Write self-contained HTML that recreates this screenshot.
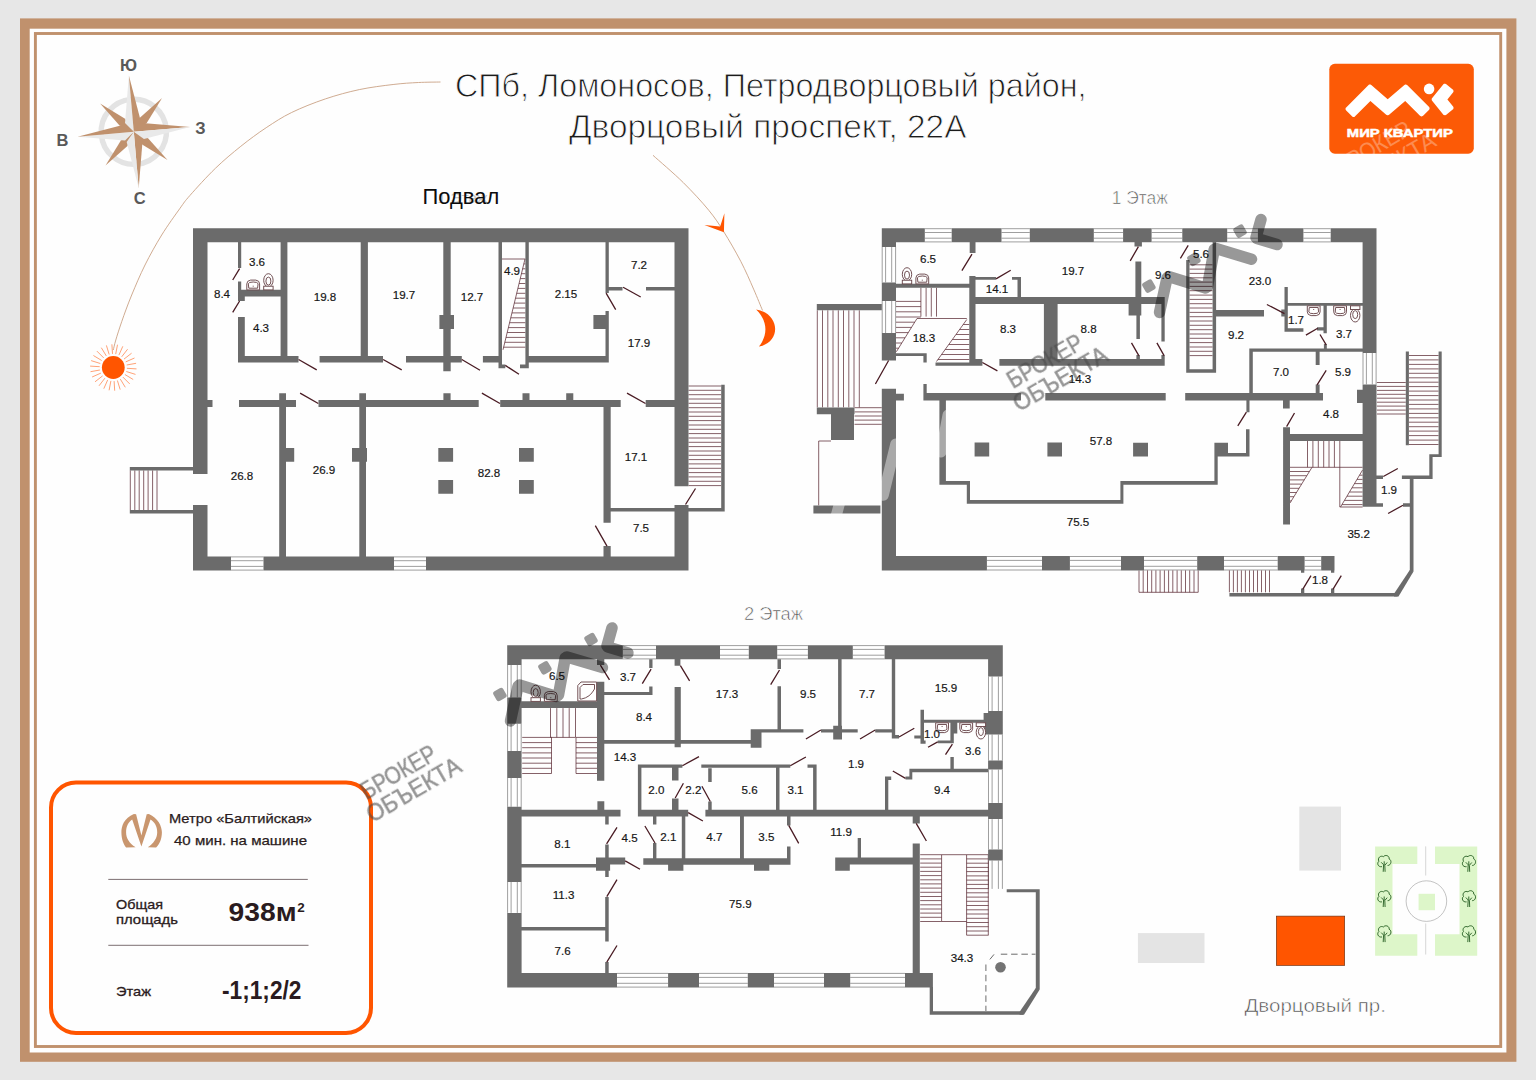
<!DOCTYPE html>
<html lang="ru"><head><meta charset="utf-8"><title>План</title>
<style>
html,body{margin:0;padding:0;background:#e7e7e7;}
body{width:1536px;height:1080px;overflow:hidden;font-family:"Liberation Sans",sans-serif;}
svg{display:block;position:absolute;left:0;top:0;}
svg text{font-family:"Liberation Sans",sans-serif;}
.lb{font-size:11.6px;fill:#161616;stroke:#161616;stroke-width:0.18px;text-anchor:middle;}
</style></head><body>
<svg width="1536" height="1080" viewBox="0 0 1536 1080">
<rect x="0" y="0" width="1536" height="1080" fill="#e7e7e7"/>
<rect x="20" y="18.4" width="1496.4" height="1043.4" fill="#c0916d"/>
<rect x="29.7" y="28.7" width="1476.7" height="1023.8" fill="#fefefe"/>
<rect x="35.4" y="33.5" width="1465.3" height="1013" fill="none" stroke="#c0916d" stroke-width="2.9"/>
<path d="M113.3,350C113.7,348.3 114.4,344.7 115.8,340.0C117.2,335.3 119.1,329.2 121.7,321.7C124.3,314.2 127.8,304.4 131.7,295.0C135.6,285.6 140.0,275.0 145.0,265.0C150.0,255.0 155.9,244.4 161.7,235.0C167.5,225.6 175.3,214.9 180.0,208.3C184.7,201.7 184.1,202.1 190.0,195.4C195.9,188.7 206.9,176.5 215.4,168.3C223.9,160.1 232.3,153.1 240.8,146.3C249.3,139.5 257.7,133.3 266.2,127.7C274.7,122.1 281.7,117.3 291.6,112.5C301.5,107.7 314.1,102.7 325.4,98.9C336.7,95.1 348.0,92.0 359.3,89.6C370.6,87.2 383.2,85.7 393.1,84.5C403.0,83.3 410.6,82.9 418.5,82.5C426.4,82.1 436.8,82.1 440.5,82.0" fill="none" stroke="#c9a184" stroke-width="0.9"/>
<path d="M653,155.3C658.0,159.9 674.0,173.4 683.3,182.6C692.6,191.8 702.1,202.1 708.8,210.3C715.5,218.5 718.4,223.1 723.7,231.6C729.0,240.1 735.8,251.8 740.8,261.4C745.8,271.0 750.0,280.9 753.6,289.1C757.2,297.3 761.0,306.8 762.5,310.4" fill="none" stroke="#c9a184" stroke-width="0.9"/>
<path d="M723.9,232.2 L704.4,225 L720.2,226.4 L724.4,213.3 Z" fill="#ff5500"/>
<path d="M756.1,309.4 C781,314 781,343 758.9,346.6 C768,335 768,321 756.1,309.4 Z" fill="#ff5500"/>
<circle cx="113.3" cy="367.5" r="11.4" fill="#ff5500"/>
<path d="M126.9,368.3L136.5,368.9M126.3,371.5L135.5,374.4M124.9,374.5L133.2,379.5M122.9,377.1L129.7,383.9M120.3,379.1L125.3,387.3M117.4,380.5L120.2,389.6M114.1,381.1L114.7,390.7M110.9,380.9L109.1,390.3M107.7,379.9L103.8,388.7M104.9,378.2L99,385.8M102.6,375.9L95,381.8M100.9,373.1L92.1,377M99.9,370L90.5,371.7M99.7,366.7L90.1,366.1M100.3,363.5L91.1,360.6M101.7,360.5L93.4,355.5M103.7,357.9L96.9,351.1M106.3,355.9L101.3,347.7M109.2,354.5L106.4,345.4M112.5,353.9L111.9,344.3M115.7,354.1L117.5,344.7M118.9,355.1L122.8,346.3M121.7,356.8L127.6,349.2M124,359.1L131.6,353.2M125.7,361.9L134.5,358M126.7,365L136.1,363.3" stroke="#ff7a3c" stroke-width="0.7" fill="none"/>
<g transform="translate(133.8,131.8) rotate(-5)">
<circle r="32.6" fill="none" stroke="#e3e3e3" stroke-width="5.4"/>
<g fill="#c0916d">
<path transform="rotate(45)" d="M0,-44 L4.3,-15 L0,0 L-4.3,-15 Z"/>
<path transform="rotate(135)" d="M0,-44 L4.3,-15 L0,0 L-4.3,-15 Z"/>
<path transform="rotate(225)" d="M0,-44 L4.3,-15 L0,0 L-4.3,-15 Z"/>
<path transform="rotate(315)" d="M0,-44 L4.3,-15 L0,0 L-4.3,-15 Z"/>
</g>
<g transform="rotate(0)"><path d="M0,-56.5 L-8,-9.5 L0,0 Z" fill="#e9e9e9"/><path d="M0,-56.5 L8,-9.5 L0,0 Z" fill="#c0916d"/></g>
<g transform="rotate(90)"><path d="M0,-56.5 L-8,-9.5 L0,0 Z" fill="#c0916d"/><path d="M0,-56.5 L8,-9.5 L0,0 Z" fill="#e9e9e9"/></g>
<g transform="rotate(180)"><path d="M0,-56.5 L-8,-9.5 L0,0 Z" fill="#c0916d"/><path d="M0,-56.5 L8,-9.5 L0,0 Z" fill="#e9e9e9"/></g>
<g transform="rotate(270)"><path d="M0,-56.5 L-8,-9.5 L0,0 Z" fill="#e9e9e9"/><path d="M0,-56.5 L8,-9.5 L0,0 Z" fill="#c0916d"/></g>
</g>
<g font-size="16.5" font-weight="bold" fill="#595959" text-anchor="middle">
<text x="128.5" y="71">Ю</text><text x="200.5" y="134">З</text><text x="62.5" y="145.5">В</text><text x="139.7" y="204">С</text>
</g>
<g font-size="34" fill="#1b1b1b" stroke="#fefefe" stroke-width="0.9" text-anchor="middle">
<text x="770.8" y="97.3" textLength="631.5" lengthAdjust="spacingAndGlyphs">СПб, Ломоносов, Петродворцовый район,</text>
<text x="767.7" y="138" textLength="397.5" lengthAdjust="spacingAndGlyphs">Дворцовый проспект, 22А</text>
</g>
<rect x="1329.3" y="63.8" width="144.5" height="89.9" rx="5.5" fill="#fc5a06"/>
<path fill="#fff" d="M1370.4,101.1L1386.2,114.7L1386.8,115.1L1387.4,115.2L1388.0,115.2L1388.6,115.1L1389.1,114.7L1405.2,101.0L1420.0,115.7L1420.4,116.1L1420.9,116.3L1421.5,116.4L1422.1,116.3L1422.6,116.1L1423.1,115.7L1428.9,109.9L1429.3,109.4L1429.5,108.9L1429.6,108.3L1429.5,107.7L1429.3,107.2L1428.9,106.8L1407.4,85.2L1407.0,84.9L1406.5,84.7L1405.9,84.6L1405.4,84.6L1404.9,84.8L1404.4,85.1L1387.7,99.2L1371.3,85.1L1370.9,84.8L1370.4,84.6L1369.8,84.5L1369.3,84.6L1368.8,84.8L1368.3,85.2L1346.2,107.4L1345.8,107.8L1345.6,108.3L1345.5,108.9L1345.6,109.5L1345.8,110.0L1346.2,110.5L1352.0,116.3L1352.5,116.7L1353.0,116.9L1353.6,117.0L1354.2,116.9L1354.7,116.7L1355.1,116.3L1370.4,101.1Z"/>
<path fill="#fff" d="M1432.2,98.0L1431.8,98.5L1431.7,99.1L1431.7,99.7L1431.8,100.2L1432.1,100.8L1443.2,114.5L1443.6,114.9L1444.1,115.1L1444.7,115.3L1445.2,115.3L1445.8,115.1L1446.3,114.8L1452.7,109.6L1453.1,109.2L1453.4,108.7L1453.5,108.1L1453.5,107.5L1453.4,107.0L1453.1,106.5L1447.4,99.4L1453.0,92.5L1453.3,92.0L1453.5,91.5L1453.5,90.9L1453.4,90.4L1453.1,89.8L1452.7,89.4L1446.3,84.2L1445.8,83.9L1445.2,83.7L1444.7,83.7L1444.1,83.8L1443.6,84.1L1443.2,84.5L1432.2,98.0Z"/>
<circle cx="1429.1" cy="88.9" r="5.3" fill="#fff"/>
<text x="1399.8" y="137.3" font-size="10.4" font-weight="bold" fill="#fff" stroke="#fff" stroke-width="0.45" text-anchor="middle" textLength="106" lengthAdjust="spacingAndGlyphs">МИР КВАРТИР</text>
<text x="437.5" y="203" font-size="15.5" fill="#c8c8c8">1 Этаж</text>
<text x="422.6" y="203.9" font-size="22" fill="#0c0c0c" textLength="76.6" lengthAdjust="spacingAndGlyphs">Подвал</text>
<text x="1111.8" y="204.4" font-size="18.3" fill="#505050" stroke="#fefefe" stroke-width="0.6" textLength="56" lengthAdjust="spacingAndGlyphs">1 Этаж</text>
<text x="743.9" y="619.9" font-size="18.2" fill="#505050" stroke="#fefefe" stroke-width="0.6" textLength="59.2" lengthAdjust="spacingAndGlyphs">2 Этаж</text>
<path d="M231,556.5h32.5v14h-32.5zM394,556.5h32v14h-32zM924.8,228.3h26.9v14h-26.9zM1001.5,228.3h28.3v14h-28.3zM1093.8,228.3h29.3v14h-29.3zM1151.6,228.3h30.7v14h-30.7zM1227.2,228.3h30.7v14h-30.7zM1303.4,228.3h27.3v14h-27.3zM881.8,247h14.2v35.4h-14.2zM881.8,301h14.2v32h-14.2zM986.9,556.1h55.1v14.3h-55.1zM1069.9,556.1h51.1v14.3h-51.1zM1144,556.1h53.2v14.3h-53.2zM1224,556.1h53.7v14.3h-53.7zM1304.6,556.1h16.6v14.3h-16.6zM1362.6,353h13.9v31.4h-13.9zM622.8,645.2h33.2v14.1h-33.2zM720,645.2h28.8v14.1h-28.8zM777.2,645.2h30.7v14.1h-30.7zM852.8,645.2h31.8v14.1h-31.8zM507.2,665h14.4v32.4h-14.4zM507.2,723.8h14.4v27.2h-14.4zM507.2,778h14.4v28.8h-14.4zM507.2,882h14.4v30.9h-14.4zM617,973h51.1v14.5h-51.1zM699,973h48.8v14.5h-48.8zM774,973h50v14.5h-50zM850.2,973h54.8v14.5h-54.8zM988.1,676.5h14.7v34.5h-14.7zM988.1,734.5h14.7v26h-14.7zM988.1,769.6h14.7v33.3h-14.7zM988.1,819.1h14.7v30.3h-14.7zM988.1,860.5h14.7v28.4h-14.7z" fill="#fff"/>
<path d="M231,556.9H263.5M231,560.7H263.5M231,566.4H263.5M231,570.1H263.5M394,556.9H426M394,560.7H426M394,566.4H426M394,570.1H426M924.8,228.7H951.7M924.8,232.5H951.7M924.8,238.2H951.7M924.8,241.9H951.7M1001.5,228.7H1029.8M1001.5,232.5H1029.8M1001.5,238.2H1029.8M1001.5,241.9H1029.8M1093.8,228.7H1123.1M1093.8,232.5H1123.1M1093.8,238.2H1123.1M1093.8,241.9H1123.1M1151.6,228.7H1182.3M1151.6,232.5H1182.3M1151.6,238.2H1182.3M1151.6,241.9H1182.3M1227.2,228.7H1257.9M1227.2,232.5H1257.9M1227.2,238.2H1257.9M1227.2,241.9H1257.9M1303.4,228.7H1330.7M1303.4,232.5H1330.7M1303.4,238.2H1330.7M1303.4,241.9H1330.7M882.2,247V282.4M885.6,247V282.4M891.7,247V282.4M895.6,247V282.4M882.2,301V333M885.6,301V333M891.7,301V333M895.6,301V333M986.9,556.5H1042M986.9,560.4H1042M986.9,566.3H1042M986.9,570H1042M1069.9,556.5H1121M1069.9,560.4H1121M1069.9,566.3H1121M1069.9,570H1121M1144,556.5H1197.2M1144,560.4H1197.2M1144,566.3H1197.2M1144,570H1197.2M1224,556.5H1277.7M1224,560.4H1277.7M1224,566.3H1277.7M1224,570H1277.7M1304.6,556.5H1321.2M1304.6,560.4H1321.2M1304.6,566.3H1321.2M1304.6,570H1321.2M1363,353V384.4M1366.4,353V384.4M1372.3,353V384.4M1376.1,353V384.4M622.8,645.6H656M622.8,649.4H656M622.8,655.2H656M622.8,658.9H656M720,645.6H748.8M720,649.4H748.8M720,655.2H748.8M720,658.9H748.8M777.2,645.6H807.9M777.2,649.4H807.9M777.2,655.2H807.9M777.2,658.9H807.9M852.8,645.6H884.6M852.8,649.4H884.6M852.8,655.2H884.6M852.8,658.9H884.6M507.6,665V697.4M511.1,665V697.4M517.3,665V697.4M521.2,665V697.4M507.6,723.8V751M511.1,723.8V751M517.3,723.8V751M521.2,723.8V751M507.6,778V806.8M511.1,778V806.8M517.3,778V806.8M521.2,778V806.8M507.6,882V912.9M511.1,882V912.9M517.3,882V912.9M521.2,882V912.9M617,973.4H668.1M617,977.4H668.1M617,983.3H668.1M617,987.1H668.1M699,973.4H747.8M699,977.4H747.8M699,983.3H747.8M699,987.1H747.8M774,973.4H824M774,977.4H824M774,983.3H824M774,987.1H824M850.2,973.4H905M850.2,977.4H905M850.2,983.3H905M850.2,987.1H905M988.5,676.5V711M992.1,676.5V711M998.4,676.5V711M1002.4,676.5V711M988.5,734.5V760.5M992.1,734.5V760.5M998.4,734.5V760.5M1002.4,734.5V760.5M988.5,769.6V802.9M992.1,769.6V802.9M998.4,769.6V802.9M1002.4,769.6V802.9M988.5,819.1V849.4M992.1,819.1V849.4M998.4,819.1V849.4M1002.4,819.1V849.4M988.5,860.5V888.9M992.1,860.5V888.9M998.4,860.5V888.9M1002.4,860.5V888.9" stroke="#868686" stroke-width="0.8" fill="none"/>
<path d="M130.3,470.4L130.3,510M134.8,470.4L134.8,510M139.2,470.4L139.2,510M143.7,470.4L143.7,510M148.1,470.4L148.1,510M152.6,470.4L152.6,510M157,470.4L157,510M688.5,386L721.2,386M688.5,390.3L721.2,390.3M688.5,394.7L721.2,394.7M688.5,399L721.2,399M688.5,403.3L721.2,403.3M688.5,407.7L721.2,407.7M688.5,412L721.2,412M688.5,416.3L721.2,416.3M688.5,420.6L721.2,420.6M688.5,425L721.2,425M688.5,429.3L721.2,429.3M688.5,433.6L721.2,433.6M688.5,438L721.2,438M688.5,442.3L721.2,442.3M688.5,446.6L721.2,446.6M688.5,451L721.2,451M688.5,455.3L721.2,455.3M688.5,459.6L721.2,459.6M688.5,463.9L721.2,463.9M688.5,468.3L721.2,468.3M688.5,472.6L721.2,472.6M688.5,476.9L721.2,476.9M688.5,481.3L721.2,481.3M688.5,485.6L721.2,485.6M502,259L525.4,259M503,349.8L525,259M523.8,263.9L525.4,263.9M522.6,268.8L525.4,268.8M521.4,273.7L525.4,273.7M520.3,278.6L525.4,278.6M519.1,283.5L525.4,283.5M517.9,288.4L525.4,288.4M516.7,293.3L525.4,293.3M515.5,298.2L525.4,298.2M514.3,303.1L525.4,303.1M513.1,308L525.4,308M511.9,312.9L525.4,312.9M510.8,317.8L525.4,317.8M509.6,322.7L525.4,322.7M508.4,327.6L525.4,327.6M507.2,332.5L525.4,332.5M506,337.4L525.4,337.4M504.8,342.3L525.4,342.3M503.6,347.2L525.4,347.2M1189.5,264.8L1212.6,264.8M1189.5,269.1L1212.6,269.1M1189.5,273.4L1212.6,273.4M1189.5,277.8L1212.6,277.8M1189.5,282.1L1212.6,282.1M1189.5,286.4L1212.6,286.4M1189.5,290.7L1212.6,290.7M1189.5,295.1L1212.6,295.1M1189.5,299.4L1212.6,299.4M1189.5,303.7L1212.6,303.7M1189.5,308L1212.6,308M1189.5,312.4L1212.6,312.4M1189.5,316.7L1212.6,316.7M1189.5,321L1212.6,321M1189.5,325.3L1212.6,325.3M1189.5,329.7L1212.6,329.7M1189.5,334L1212.6,334M1189.5,338.3L1212.6,338.3M1189.5,342.6L1212.6,342.6M1189.5,347L1212.6,347M1189.5,351.3L1212.6,351.3M1189.5,355.6L1212.6,355.6M1408.9,355.5L1438.6,355.5M1408.9,359.9L1438.6,359.9M1408.9,364.4L1438.6,364.4M1408.9,368.9L1438.6,368.9M1408.9,373.3L1438.6,373.3M1408.9,377.8L1438.6,377.8M1408.9,382.2L1438.6,382.2M1408.9,386.6L1438.6,386.6M1408.9,391.1L1438.6,391.1M1408.9,395.6L1438.6,395.6M1408.9,400L1438.6,400M1408.9,404.4L1438.6,404.4M1408.9,408.9L1438.6,408.9M1408.9,413.4L1438.6,413.4M1408.9,417.8L1438.6,417.8M1408.9,422.2L1438.6,422.2M1408.9,426.7L1438.6,426.7M1408.9,431.1L1438.6,431.1M1408.9,435.6L1438.6,435.6M1408.9,440.1L1438.6,440.1M1408.9,444.5L1438.6,444.5M1376.9,382.5L1405.8,382.5M1376.9,386.4L1405.8,386.4M1376.9,390.4L1405.8,390.4M1376.9,394.3L1405.8,394.3M1376.9,398.2L1405.8,398.2M1376.9,402.2L1405.8,402.2M1376.9,406.1L1405.8,406.1M1376.9,410.1L1405.8,410.1M1376.9,414L1405.8,414M1139,570.4L1139,592.3M1143.2,570.4L1143.2,592.3M1147.5,570.4L1147.5,592.3M1151.7,570.4L1151.7,592.3M1155.9,570.4L1155.9,592.3M1160.1,570.4L1160.1,592.3M1164.4,570.4L1164.4,592.3M1168.6,570.4L1168.6,592.3M1172.8,570.4L1172.8,592.3M1177.1,570.4L1177.1,592.3M1181.3,570.4L1181.3,592.3M1185.5,570.4L1185.5,592.3M1189.7,570.4L1189.7,592.3M1194,570.4L1194,592.3M1198.2,570.4L1198.2,592.3M1139,592.3L1198.2,592.3M1229.4,570.4L1229.4,592.3M1233.4,570.4L1233.4,592.3M1237.4,570.4L1237.4,592.3M1241.4,570.4L1241.4,592.3M1245.4,570.4L1245.4,592.3M1249.5,570.4L1249.5,592.3M1253.5,570.4L1253.5,592.3M1257.5,570.4L1257.5,592.3M1261.5,570.4L1261.5,592.3M1265.5,570.4L1265.5,592.3M1269.5,570.4L1269.5,592.3M1307.5,441L1307.5,467.3M1312.9,441L1312.9,467.3M1318.3,441L1318.3,467.3M1323.7,441L1323.7,467.3M1329,441L1329,467.3M1334.4,441L1334.4,467.3M1339.8,441L1339.8,467.3M1290,467.3L1362.6,467.3M1312,467.3L1290,503M1290,471.5L1309.4,471.5M1290,475.7L1306.8,475.7M1290,479.9L1304.2,479.9M1290,484.1L1301.6,484.1M1290,488.3L1299.1,488.3M1290,492.5L1296.5,492.5M1290,496.7L1293.9,496.7M1290,500.9L1291.3,500.9M1339.8,467.3L1339.8,507M1339.8,507L1362.6,507M1362.6,470L1340.5,507M1359.5,475.2L1362.6,475.2M1357,479.4L1362.6,479.4M1354.5,483.6L1362.6,483.6M1352,487.8L1362.6,487.8M1349.5,492L1362.6,492M1347,496.2L1362.6,496.2M1344.5,500.4L1362.6,500.4M1342,504.6L1362.6,504.6M817.3,310.3L817.3,407.4M822.5,310.3L822.5,407.4M827.8,310.3L827.8,407.4M833,310.3L833,407.4M838.3,310.3L838.3,407.4M843.5,310.3L843.5,407.4M848.8,310.3L848.8,407.4M854,310.3L854,407.4M859.3,310.3L859.3,407.4M854.5,407.7L881.8,407.7M854.5,411.9L881.8,411.9M854.5,416L881.8,416M854.5,420.1L881.8,420.1M854.5,424.3L881.8,424.3M818.7,441L818.7,505.4M818.7,441L831,441M896,301.4L920.9,301.4M896,306.6L920.9,306.6M896,311.8L920.9,311.8M896,317L920.9,317M896,322.2L914.7,322.2M896,327.4L911.5,327.4M896,332.6L908.3,332.6M896,337.8L905,337.8M896,343L901.8,343M896,348.2L898.6,348.2M917,318.5L896.4,351.7M920.9,287.7L920.9,316.6M926.1,287.7L926.1,316.6M931.3,287.7L931.3,316.6M936.5,287.7L936.5,316.6M917,318.5L966.8,318.5M966.8,319.5L936.5,361.5M963.2,324.5L969.3,324.5M959.6,329.5L969.3,329.5M956,334.5L969.3,334.5M952.4,339.5L969.3,339.5M948.8,344.5L969.3,344.5M945.2,349.5L969.3,349.5M941.5,354.5L969.3,354.5M937.9,359.5L969.3,359.5M550.5,708.1L550.5,737.4M556.8,708.1L556.8,737.4M563,708.1L563,737.4M569.2,708.1L569.2,737.4M575.5,708.1L575.5,737.4M522.2,737.4L551.5,737.4M522.2,742.6L551.5,742.6M522.2,747.7L551.5,747.7M522.2,752.9L551.5,752.9M522.2,758L551.5,758M522.2,763.2L551.5,763.2M522.2,768.3L551.5,768.3M522.2,773.5L551.5,773.5M551.5,737.4L551.5,773.5M550.5,737.4L575.5,737.4M576,737.4L597,737.4M576,742.6L597,742.6M576,747.7L597,747.7M576,752.9L597,752.9M576,758L597,758M576,763.2L597,763.2M576,768.3L597,768.3M576,773.5L597,773.5M576,737.4L576,773.5M920.2,854.7L941.6,854.7M920.2,858.9L941.6,858.9M920.2,863.1L941.6,863.1M920.2,867.2L941.6,867.2M920.2,871.4L941.6,871.4M920.2,875.6L941.6,875.6M920.2,879.8L941.6,879.8M920.2,883.9L941.6,883.9M920.2,888.1L941.6,888.1M920.2,892.3L941.6,892.3M920.2,896.5L941.6,896.5M920.2,900.6L941.6,900.6M920.2,904.8L941.6,904.8M920.2,909L941.6,909M920.2,913.1L941.6,913.1M920.2,917.3L941.6,917.3M920.2,921.5L941.6,921.5M941.6,854.7L966.6,854.7M941.6,921.5L966.6,921.5M941.6,854.7L941.6,921.5M966.6,854.7L966.6,935.2M966.6,854.7L988.5,854.7M966.6,858.9L988.5,858.9M966.6,863.2L988.5,863.2M966.6,867.4L988.5,867.4M966.6,871.6L988.5,871.6M966.6,875.9L988.5,875.9M966.6,880.1L988.5,880.1M966.6,884.4L988.5,884.4M966.6,888.6L988.5,888.6M966.6,892.8L988.5,892.8M966.6,897.1L988.5,897.1M966.6,901.3L988.5,901.3M966.6,905.5L988.5,905.5M966.6,909.8L988.5,909.8M966.6,914L988.5,914M966.6,918.3L988.5,918.3M966.6,922.5L988.5,922.5M966.6,926.7L988.5,926.7M966.6,931L988.5,931M966.6,935.2L988.5,935.2M988.3,854.7L988.3,935.2" stroke="#5c2c35" stroke-width="0.75" fill="none"/>
<path d="M193,228.3h495.5v14h-495.5zM193,228.3h14.5v245.7h-14.5zM193,505h14.5v65.5h-14.5zM193,556.5h38v14h-38zM263.5,556.5h130.5v14h-130.5zM426,556.5h262.5v14h-262.5zM674.5,228.3h14v258h-14zM674.5,505h14v65.5h-14zM238,242h3.2v26h-3.2zM238,281.5h3.2v19.5h-3.2zM238,289.8h49.4v6.8h-49.4zM241,296.6h3.8v4.4h-3.8zM280.6,242h6.8v120.5h-6.8zM238,317h6.8v45.5h-6.8zM238,356h60.5v6.5h-60.5zM319.6,356h63.4v6.5h-63.4zM360.7,242h7.2v120.5h-7.2zM406,356h55.8v6.5h-55.8zM443.3,242h7.4v129.3h-7.4zM439.4,315h14.6v14h-14.6zM482.9,356h19.1v6.5h-19.1zM498.5,242h3.5v126.3h-3.5zM498.5,364.4h6.8v3.9h-6.8zM525.4,242h3.4v126.3h-3.4zM520,364.4h8.8v3.9h-8.8zM528.8,356h80v6.5h-80zM605.5,242h3.3v51h-3.3zM605.5,311h3.3v51.5h-3.3zM593.4,315h12.1v14h-12.1zM605.5,286.9h17v3.5h-17zM646,286.9h28.5v3.5h-28.5zM207.5,400h5v7h-5zM239,400h57v7h-57zM318.5,400h160.2v7h-160.2zM500.2,400h120.5v7h-120.5zM645.7,400h28.8v7h-28.8zM279.2,393.2h6.8v163.3h-6.8zM359.3,393.2h6.7v163.3h-6.7zM443.4,393.2h7.2v6.8h-7.2zM522.5,393.2h7v6.8h-7zM566.2,393.2h7.1v6.8h-7.1zM286,448h8.2v13.8h-8.2zM352,448h15v13.8h-15zM603.5,407h7.2v115.7h-7.2zM610.7,508h63.8v3.5h-63.8zM603.5,546h7.2v10.5h-7.2zM438.3,448h14.8v13.8h-14.8zM438.3,480h14.8v13.8h-14.8zM519,448h14.8v13.8h-14.8zM519,480h14.8v13.8h-14.8zM129.8,467h63.4v3.4h-63.4zM129.8,510h63.4v3.5h-63.4zM721.2,384.8h3.5v126.7h-3.5zM688.5,508h36.2v3.5h-36.2zM881.8,228.3h43v14h-43zM951.7,228.3h49.8v14h-49.8zM1029.8,228.3h64v14h-64zM1123.1,228.3h28.5v14h-28.5zM1182.3,228.3h44.9v14h-44.9zM1257.9,228.3h45.5v14h-45.5zM1330.7,228.3h45.8v14h-45.8zM881.8,228.3h14.2v18.7h-14.2zM881.8,282.4h14.2v18.6h-14.2zM881.8,333h14.2v27.5h-14.2zM881.8,388.8h14.2v181.6h-14.2zM881.8,556.1h105.1v14.3h-105.1zM1042,556.1h27.9v14.3h-27.9zM1121,556.1h23v14.3h-23zM1197.2,556.1h26.8v14.3h-26.8zM1277.7,556.1h26.9v14.3h-26.9zM1321.2,556.1h13.3v14.3h-13.3zM1362.6,228.3h13.9v124.7h-13.9zM1362.6,384.4h13.9v122.3h-13.9zM1357,389.8h5.8v13.2h-5.8zM969.7,242.3h5.8v10.7h-5.8zM896,283.8h73.7v3.9h-73.7zM969.3,276h6.2v89.6h-6.2zM975.5,277h20.5v2.8h-20.5zM1012,277h9v2.8h-9zM1017.5,277h3.5v20h-3.5zM975.5,297h189.2v6.9h-189.2zM1043.9,303.9h13.7v55.6h-13.7zM999.4,359h165.3v6.8h-165.3zM935.5,362.5h46.9v3.3h-46.9zM975.5,359h6.9v6.8h-6.9zM896,353.3h30.7v2.7h-30.7zM923.4,353.3h3.3v9.2h-3.3zM923.4,384h3.3v16.5h-3.3zM923.4,393h97.6v7.5h-97.6zM1045.3,393h120.4v7.5h-120.4zM1185.2,393h137.8v7.5h-137.8zM896,393.7h7.9v6.8h-7.9zM1134.5,242.3h7.4v4.3h-7.4zM1135.4,261.5h5.9v35.5h-5.9zM1128.6,303.9h12.7v11.7h-12.7zM1136.4,303.9h3.5v35.1h-3.5zM1136.4,355h3.5v4.5h-3.5zM1161.4,297h3.3v44.6h-3.3zM1161.4,355h3.3v4.5h-3.3zM1186.2,260h3.3v112.8h-3.3zM1212.6,242.3h3.5v130.5h-3.5zM1186.2,369.3h29.9v3.5h-29.9zM1216.1,310h47.9v6.6h-47.9zM1284.5,286.9h3.3v44.9h-3.3zM1281.3,309.5h3.2v7h-3.2zM1287.8,302.9h74.8v2.9h-74.8zM1284.5,328.3h18.9v3.5h-18.9zM1323.5,305.8h3.3v27.4h-3.3zM1317,327.3h6.5v3.3h-6.5zM1323.9,343.9h2.9v4.9h-2.9zM1249.3,348.4h113.3v3.3h-113.3zM1249.3,348.4h3.5v45.3h-3.5zM1315.7,351.7h3.9v13.3h-3.9zM1315.7,384.5h3.9v9.2h-3.9zM1246.4,400h3.1v12.2h-3.1zM1283,400h6.7v8.6h-6.7zM1283.1,427.2h6.9v97.3h-6.9zM1290,434h72.8v7h-72.8zM939.4,400.5h6.5v84.3h-6.5zM939.4,481h30.3v3.8h-30.3zM966.8,481h3.2v22.8h-3.2zM966.8,500h156.6v3.8h-156.6zM1120.4,481h3v22.8h-3zM1120.4,481h97.3v3.8h-97.3zM1214.4,453h3.3v31.8h-3.3zM1214.4,442.8h13.6v13.7h-13.6zM1228,453h21.5v3.5h-21.5zM1246,429.2h3.5v27.3h-3.5zM974.6,442.5h14.6v14h-14.6zM1047.4,442.5h14.6v14h-14.6zM1133.1,442.8h14.9v13.7h-14.9zM1376.5,475.6h6.5v3.3h-6.5zM1376.5,503.3h6.5v3.4h-6.5zM1401.9,475.6h30.7v3.3h-30.7zM1409.8,478.9h3.7v92.6h-3.7zM1403,503.3h6.8v3.4h-6.8zM1229.4,593h168.1v3.5h-168.1zM1405.8,351.6h3.1v93.7h-3.1zM1438.6,351.6h3.1v105.4h-3.1zM1429.3,454.3h12.4v2.7h-12.4zM1429.3,454.3h3.3v24.6h-3.3zM1301,570.4h3.3v2.4h-3.3zM1331,570.4h3.3v2.4h-3.3zM1301,588.5h3.3v5.5h-3.3zM1331,588.5h3.3v5.5h-3.3zM816.8,303.9h65v6.4h-65zM816.8,407.4h37.7v6.8h-37.7zM831,407.7h23v32.3h-23zM813.4,505.4h67v8.2h-67zM507.2,645.2h115.6v14.1h-115.6zM656,645.2h64v14.1h-64zM748.8,645.2h28.4v14.1h-28.4zM807.9,645.2h44.9v14.1h-44.9zM884.6,645.2h118.2v14.1h-118.2zM507.2,645.2h14.4v19.8h-14.4zM507.2,697.4h14.4v26.4h-14.4zM507.2,751h14.4v27h-14.4zM507.2,806.8h14.4v75.2h-14.4zM507.2,912.9h14.4v74.6h-14.4zM507.2,973h109.8v14.5h-109.8zM668.1,973h30.9v14.5h-30.9zM747.8,973h26.2v14.5h-26.2zM824,973h26.2v14.5h-26.2zM905,973h27.9v14.5h-27.9zM988.1,645.2h14.7v31.3h-14.7zM988.1,711h14.7v23.5h-14.7zM988.1,760.5h14.7v9.1h-14.7zM988.1,802.9h14.7v16.2h-14.7zM988.1,849.4h14.7v11.1h-14.7zM983.6,713h4.5v21.5h-4.5zM521.6,701.3h75.8v6.8h-75.8zM597,681.8h7.3v99h-7.3zM597,659.3h7.3v5.7h-7.3zM604.3,692h47.8v3h-47.8zM649.2,686.6h3.3v8.4h-3.3zM649.2,659.3h3.3v8.7h-3.3zM674.6,659.3h5.8v6.4h-5.8zM674.6,687h6.2v60.2h-6.2zM604.3,740h146.4v3.7h-146.4zM750.7,729.2h10.8v18.6h-10.8zM777.5,686.2h3.5v43.4h-3.5zM777.5,659.3h3.5v9.7h-3.5zM761.5,729.2h41.9v3.3h-41.9zM821,729.2h36.7v3.3h-36.7zM833.2,725.7h8.8v13.7h-8.8zM875.2,729.2h19.6v3.3h-19.6zM838.1,659.3h3.5v70.3h-3.5zM891.8,659.3h3.4v79.1h-3.4zM891.8,735h7.2v3.4h-7.2zM920.5,709.7h3.5v34h-3.5zM924,719.8h64.1v3h-64.1zM914.3,735.5h6.2v2.9h-6.2zM920.5,740.4h5.1v3.3h-5.1zM950.4,722.8h6.9v10.7h-6.9zM950.4,733.5h3.4v9.8h-3.4zM937.7,740.4h16v2.9h-16zM950.4,757h3.4v12.6h-3.4zM909.4,768.7h78.7v3.5h-78.7zM909.4,768.7h2.9v10.7h-2.9zM905.5,776.5h6.8v2.9h-6.8zM885,776.5h6.2v3.5h-6.2zM885,776.5h3.3v33.2h-3.3zM807.5,764.4h9.1v3.3h-9.1zM813.1,764.4h3.5v45.3h-3.5zM701.3,764.4h89v3.3h-89zM776,767.7h3.5v42h-3.5zM637.9,764.4h44.5v3.3h-44.5zM637.9,764.4h3.5v51.1h-3.5zM672,767.7h6.5v12.7h-6.5zM672,798.4h6.5v11.3h-6.5zM708.2,768.3h3.5v13.7h-3.5zM708.2,801.5h3.5v8.2h-3.5zM521.6,809.7h98.9v6.8h-98.9zM637.9,809.7h50.3v6.8h-50.3zM705.4,809.7h282.7v6.8h-282.7zM597.4,801.3h6.9v8.4h-6.9zM605.2,816.5h3.5v7.9h-3.5zM653,816.5h3.4v7.9h-3.4zM681.8,816.5h3.5v41.7h-3.5zM740,816.5h3.9v41.7h-3.9zM787,816.6h3.5v8.8h-3.5zM912.7,816.5h7.1v6.9h-7.1zM521.6,864h74.8v3.4h-74.8zM596,857.6h14.1v13.1h-14.1zM596,857.6h29.2v6.9h-29.2zM605.2,844.5h3.5v32.6h-3.5zM605.2,897h3.5v44.6h-3.5zM605.2,962h3.5v11h-3.5zM521.6,927h85.6v3.5h-85.6zM643.3,858.2h147.2v6.6h-147.2zM668.1,864.8h15.3v5.9h-15.3zM754,864.8h15.3v5.9h-15.3zM653,843h3.4v15.2h-3.4zM787,846.5h3.5v18h-3.5zM835.2,857.6h14.6v13.1h-14.6zM835.2,857.6h81v6.9h-81zM857.7,838h3.3v19.6h-3.3zM912.7,843.4h7.1v129.8h-7.1zM929.7,987h3.3v27.7h-3.3zM929.7,1011.3h93.3v3.4h-93.3zM1035.8,889.2h3.9v100.3h-3.9zM1006.7,889.2h33v3h-33z" fill="#6b6b6b"/>
<polygon points="1409.8,570 1413.5,571.5 1398.5,596.5 1394,596.5 1394.5,593" fill="#6b6b6b"/>
<polygon points="1035.8,988 1039.7,989.5 1024,1014.7 1019.5,1014.7 1020,1011.3" fill="#6b6b6b"/>
<path d="M1000.8,954.2H1035.5M994,954.4L989.8,959.5M985.9,964.5V1011" stroke="#6b6b6b" stroke-width="1" stroke-dasharray="6.5,3.8" fill="none"/>
<circle cx="1000.5" cy="967.2" r="5.3" fill="#737373"/>
<path d="M239.6,268.7L232.7,280M239.6,301L232.7,312.3M298.6,359.5L316.7,369.9M383.1,359.5L401.7,369.9M461.8,359.5L480,370.3M300.1,393.1L318.3,403.5M505.3,365.4L519,374.2M481.9,393.1L500,403.5M627,393.1L645.5,403.5M623.1,287.3L640.7,297M606.1,293.1L615.7,309.7M595.3,525.6L607,546.1M695.5,488.5L685.5,504.5M972,254.1L961.9,270.7M1010.7,270.3L996,278.9M888.6,360.5L875.4,384M982.4,362.5L997.4,370.9M1138.4,246.6L1130.2,260.9M1188.2,245.3L1180.4,258.4M1131.5,342.9L1138.8,355.6M1156.9,342.9L1164.1,355.6M1266.9,304.5L1284.5,313.6M1305.9,335.1L1317.7,328.3M1320,334.5L1326.2,344.9M1326.2,370.3L1317.1,384.9M1246.4,412.2L1237.8,425.9M1294.5,413L1286.6,426.6M1311,575.7L1302.7,589.3M1341.3,575.7L1332.9,589.3M1397.8,468.5L1383.3,476.5M1403,505.2L1388.1,513.5M600.4,665.2L609.5,679.8M651.1,669.1L642.3,683.7M680.4,665.7L689.6,680.8M779.5,670L770.7,684.7M699,756.6L682.4,765.7M683.4,783.3L675.2,798M701.9,786.2L710.3,801.5M688.2,812.6L702.9,821M820.9,730L805.9,739M875.2,730L860,739M914.3,728.2L899,737M937.7,741.9L928,747.2M952.4,744.2L945.5,754.6M805.9,757L790.3,765.7M892.8,771L905.5,778.4M617,827.3L606.6,843.9M644.9,826L655,843M625.2,860.9L640,869.3M617,879.7L606.8,896.7M617,945.5L606.8,962.1M788.7,825.4L798.7,843.4M916.2,823.4L926.4,841" stroke="#4a1c24" stroke-width="1.3" fill="none"/>
<g fill="#fff" stroke="#6a484c" stroke-width="0.95">
<g transform="translate(907,283.9) rotate(0)"><ellipse cx="0" cy="-9.6" rx="4.7" ry="6.6"/><ellipse cx="0" cy="-8.8" rx="2.5" ry="4"/><rect x="-4.7" y="-3.7" width="9.4" height="3.7"/></g>
<g transform="translate(922.3,283.9) rotate(0)"><path d="M-6.4,0V-6Q-6.4,-9.3 -2.6,-9.8H2.6Q6.4,-9.3 6.4,-6V0Z"/><path d="M-4.4,-1.7L-4.9,-6.2Q-4.4,-7.9 0,-7.9Q4.4,-7.9 4.9,-6.2L4.4,-1.7Z"/><path d="M0,-4.2v1" /></g>
<g transform="translate(1313.7,305.8) rotate(180)"><path d="M-6.4,0V-6Q-6.4,-9.3 -2.6,-9.8H2.6Q6.4,-9.3 6.4,-6V0Z"/><path d="M-4.4,-1.7L-4.9,-6.2Q-4.4,-7.9 0,-7.9Q4.4,-7.9 4.9,-6.2L4.4,-1.7Z"/><path d="M0,-4.2v1" /></g>
<g transform="translate(1340.1,305.8) rotate(180)"><path d="M-6.4,0V-6Q-6.4,-9.3 -2.6,-9.8H2.6Q6.4,-9.3 6.4,-6V0Z"/><path d="M-4.4,-1.7L-4.9,-6.2Q-4.4,-7.9 0,-7.9Q4.4,-7.9 4.9,-6.2L4.4,-1.7Z"/><path d="M0,-4.2v1" /></g>
<g transform="translate(1355.2,305.8) rotate(180)"><ellipse cx="0" cy="-9.6" rx="4.7" ry="6.6"/><ellipse cx="0" cy="-8.8" rx="2.5" ry="4"/><rect x="-4.7" y="-3.7" width="9.4" height="3.7"/></g>
<g transform="translate(253.2,289.9) rotate(0)"><path d="M-6.4,0V-6Q-6.4,-9.3 -2.6,-9.8H2.6Q6.4,-9.3 6.4,-6V0Z"/><path d="M-4.4,-1.7L-4.9,-6.2Q-4.4,-7.9 0,-7.9Q4.4,-7.9 4.9,-6.2L4.4,-1.7Z"/><path d="M0,-4.2v1" /></g>
<g transform="translate(268.4,289.9) rotate(0)"><ellipse cx="0" cy="-9.6" rx="4.7" ry="6.6"/><ellipse cx="0" cy="-8.8" rx="2.5" ry="4"/><rect x="-4.7" y="-3.7" width="9.4" height="3.7"/></g>
<g transform="translate(535.7,701.4) rotate(0)"><ellipse cx="0" cy="-9.6" rx="4.7" ry="6.6"/><ellipse cx="0" cy="-8.8" rx="2.5" ry="4"/><rect x="-4.7" y="-3.7" width="9.4" height="3.7"/></g>
<g transform="translate(550.8,701.4) rotate(0)"><path d="M-6.4,0V-6Q-6.4,-9.3 -2.6,-9.8H2.6Q6.4,-9.3 6.4,-6V0Z"/><path d="M-4.4,-1.7L-4.9,-6.2Q-4.4,-7.9 0,-7.9Q4.4,-7.9 4.9,-6.2L4.4,-1.7Z"/><path d="M0,-4.2v1" /></g>
<g transform="translate(942.1,722.8) rotate(180)"><path d="M-6.4,0V-6Q-6.4,-9.3 -2.6,-9.8H2.6Q6.4,-9.3 6.4,-6V0Z"/><path d="M-4.4,-1.7L-4.9,-6.2Q-4.4,-7.9 0,-7.9Q4.4,-7.9 4.9,-6.2L4.4,-1.7Z"/><path d="M0,-4.2v1" /></g>
<g transform="translate(966.2,722.8) rotate(180)"><path d="M-6.4,0V-6Q-6.4,-9.3 -2.6,-9.8H2.6Q6.4,-9.3 6.4,-6V0Z"/><path d="M-4.4,-1.7L-4.9,-6.2Q-4.4,-7.9 0,-7.9Q4.4,-7.9 4.9,-6.2L4.4,-1.7Z"/><path d="M0,-4.2v1" /></g>
<g transform="translate(980.9,722.8) rotate(180)"><ellipse cx="0" cy="-9.6" rx="4.7" ry="6.6"/><ellipse cx="0" cy="-8.8" rx="2.5" ry="4"/><rect x="-4.7" y="-3.7" width="9.4" height="3.7"/></g>
<path d="M581,682 H596.6 V701 H577.8 V685.5 Z"/><path d="M583,684.5 H594.5 L594.5,689 Q590,697.5 581.5,699 L580,699 V687.5 Z"/>
</g>
<g class="lb">
<text x="257" y="266.2">3.6</text>
<text x="222" y="297.6">8.4</text>
<text x="261" y="332">4.3</text>
<text x="325" y="301">19.8</text>
<text x="404" y="299">19.7</text>
<text x="472" y="301">12.7</text>
<text x="512" y="275">4.9</text>
<text x="566" y="297.6">2.15</text>
<text x="639" y="269.2">7.2</text>
<text x="639" y="347">17.9</text>
<text x="242" y="480">26.8</text>
<text x="324" y="474">26.9</text>
<text x="489" y="477">82.8</text>
<text x="636" y="461">17.1</text>
<text x="641" y="532">7.5</text>
<text x="928" y="263">6.5</text>
<text x="1073" y="275">19.7</text>
<text x="997" y="293.3">14.1</text>
<text x="1163" y="279">9.6</text>
<text x="1201" y="258">5.6</text>
<text x="1260" y="285.3">23.0</text>
<text x="924" y="342">18.3</text>
<text x="1008" y="333">8.3</text>
<text x="1088.6" y="333.2">8.8</text>
<text x="1080" y="383">14.3</text>
<text x="1236" y="339">9.2</text>
<text x="1296" y="324">1.7</text>
<text x="1344" y="338">3.7</text>
<text x="1281" y="376">7.0</text>
<text x="1343" y="376">5.9</text>
<text x="1331" y="418">4.8</text>
<text x="1101" y="445">57.8</text>
<text x="1078" y="526">75.5</text>
<text x="1389" y="494">1.9</text>
<text x="1358.7" y="538.3">35.2</text>
<text x="1320" y="584">1.8</text>
<text x="557" y="679.9">6.5</text>
<text x="628" y="680.9">3.7</text>
<text x="727" y="697.9">17.3</text>
<text x="808" y="697.9">9.5</text>
<text x="867" y="697.9">7.7</text>
<text x="946" y="691.9">15.9</text>
<text x="644" y="720.9">8.4</text>
<text x="625" y="760.9">14.3</text>
<text x="932" y="737.9">1.0</text>
<text x="973" y="754.9">3.6</text>
<text x="856" y="767.9">1.9</text>
<text x="656.3" y="793.5">2.0</text>
<text x="693.3" y="793.5">2.2</text>
<text x="749.6" y="793.5">5.6</text>
<text x="795.5" y="793.5">3.1</text>
<text x="942" y="793.9">9.4</text>
<text x="562.3" y="847.6">8.1</text>
<text x="629.6" y="841.6">4.5</text>
<text x="668.4" y="840.6">2.1</text>
<text x="714.4" y="840.6">4.7</text>
<text x="766.4" y="840.6">3.5</text>
<text x="841" y="835.9">11.9</text>
<text x="563.6" y="898.9">11.3</text>
<text x="740.4" y="907.6">75.9</text>
<text x="562.6" y="954.6">7.6</text>
<text x="962" y="961.9">34.3</text>
</g>
<g opacity="0.4"><g transform="translate(0,0)" fill="none" stroke="#000" stroke-width="11.5" stroke-linecap="round" stroke-linejoin="round"><path d="M1159.5,312.5 L1167,278"/><path d="M1168.5,276.5 L1205.5,288"/><path d="M1207.5,286.5 L1214.2,249.5"/><path d="M1216,248.5 L1251.5,259.2"/><path d="M1256,237.5 L1261,219.5"/><path d="M1257,238.6 L1277,244.6"/><g stroke="none" fill="#000"><rect x="-5.6" y="-5.6" width="11.2" height="11.2" rx="2.6" transform="translate(1148.9,286.1) rotate(-30)"/><rect x="-5.6" y="-5.6" width="11.2" height="11.2" rx="2.6" transform="translate(1193.9,259.4) rotate(-30)"/><rect x="-5.6" y="-5.6" width="11.2" height="11.2" rx="2.6" transform="translate(1240,231.1) rotate(-30)"/></g></g><g transform="translate(-649,408.4)" fill="none" stroke="#000" stroke-width="11.5" stroke-linecap="round" stroke-linejoin="round"><path d="M1159.5,312.5 L1167,278"/><path d="M1168.5,276.5 L1205.5,288"/><path d="M1207.5,286.5 L1214.2,249.5"/><path d="M1216,248.5 L1251.5,259.2"/><path d="M1256,237.5 L1261,219.5"/><path d="M1257,238.6 L1277,244.6"/><g stroke="none" fill="#000"><rect x="-5.6" y="-5.6" width="11.2" height="11.2" rx="2.6" transform="translate(1148.9,286.1) rotate(-30)"/><rect x="-5.6" y="-5.6" width="11.2" height="11.2" rx="2.6" transform="translate(1193.9,259.4) rotate(-30)"/><rect x="-5.6" y="-5.6" width="11.2" height="11.2" rx="2.6" transform="translate(1240,231.1) rotate(-30)"/></g></g></g>
<rect x="51" y="782.5" width="320" height="250.5" rx="25" fill="#fefefe" stroke="#ff5500" stroke-width="4"/>
<path fill="#c9966e" d="M133.9,813.9L136.1,814.3L141.4,835.6L146.7,814.3L148.9,813.9C158,818 161.9,826 161.9,832.2C161.9,839 159.5,844 156.1,847.5L147.8,847.2C154,843 157.2,838 157.2,832.2C157.2,826 154.5,822 150.5,819.4L141.4,846.4L132.2,819.4C128.5,822 126.1,826 126.1,832.2C126.1,838 129,843 135.6,847.2L126.1,847.5C123.5,844 121.4,839 121.4,832.2C121.4,826 124,818 133.9,813.9Z"/>
<g fill="#2a1b20">
<text x="169" y="823.3" font-size="13.2" textLength="143" lengthAdjust="spacingAndGlyphs" stroke="#2a1b20" stroke-width="0.25">Метро «Балтийская»</text>
<text x="174" y="844.7" font-size="13.2" textLength="133" lengthAdjust="spacingAndGlyphs" stroke="#2a1b20" stroke-width="0.25">40 мин. на машине</text>
<text x="116" y="909.4" font-size="12.6" textLength="47" lengthAdjust="spacingAndGlyphs" stroke="#2a1b20" stroke-width="0.3">Общая</text>
<text x="116" y="923.5" font-size="12.6" textLength="62" lengthAdjust="spacingAndGlyphs" stroke="#2a1b20" stroke-width="0.3">площадь</text>
<text x="228.6" y="921" font-size="25" font-weight="bold" textLength="68" lengthAdjust="spacingAndGlyphs">938м</text>
<text x="297.3" y="911.5" font-size="13.5" font-weight="bold">2</text>
<text x="116" y="995.5" font-size="12.6" textLength="35" lengthAdjust="spacingAndGlyphs" stroke="#2a1b20" stroke-width="0.3">Этаж</text>
<text x="222" y="999.4" font-size="26" font-weight="bold" textLength="79.5" lengthAdjust="spacingAndGlyphs">-1;1;2/2</text>
</g>
<path d="M108.3,879.4H307.8M108.3,945.3H308.5" stroke="#5a4a4e" stroke-width="0.8" fill="none"/>
<rect x="1299.3" y="806.6" width="41.7" height="64" fill="#e4e4e4"/>
<rect x="1137.9" y="933.1" width="66.6" height="29.9" fill="#e4e4e4"/>
<rect x="1276.3" y="916.1" width="68.4" height="49.4" fill="#ff5500" stroke="#5a2a10" stroke-width="0.6"/>
<path d="M1375.1,846.4H1417.3V863.9H1392.5V934.2H1417.3V955.8H1375.1Z" fill="#ddf6c9"/>
<path d="M1477.2,846.4H1435V863.9H1459.5V934.2H1435V955.8H1477.2Z" fill="#ddf6c9"/>
<rect x="1418.6" y="893.8" width="16.4" height="16.4" fill="#ddf6c9"/>
<circle cx="1426.4" cy="901.1" r="20.3" fill="none" stroke="#9a9a9a" stroke-width="0.6"/>
<path d="M1425.7,846.4V875.5M1425.7,923.5V954.5" stroke="#c4c4c4" stroke-width="0.7"/>
<g id="trees">
<g transform="translate(1384.2,863.3)" fill="none" stroke="#245c20" stroke-width="0.9"><path d="M-1,8.5 L-0.6,1.5 L-3,-1 M0.9,8.5 L0.6,2 L3,-0.8 M0,2 V-2" /><path d="M-2.2,3.4 C-6.5,4 -7.5,-0.5 -5.3,-2 C-7,-5.5 -3.5,-8.2 -0.8,-6.6 C1,-9 5.5,-7.6 4.9,-4.4 C8,-3 7,2.2 3.4,2.2" /></g>
<g transform="translate(1384.2,898.5)" fill="none" stroke="#245c20" stroke-width="0.9"><path d="M-1,8.5 L-0.6,1.5 L-3,-1 M0.9,8.5 L0.6,2 L3,-0.8 M0,2 V-2" /><path d="M-2.2,3.4 C-6.5,4 -7.5,-0.5 -5.3,-2 C-7,-5.5 -3.5,-8.2 -0.8,-6.6 C1,-9 5.5,-7.6 4.9,-4.4 C8,-3 7,2.2 3.4,2.2" /></g>
<g transform="translate(1384.2,933.6)" fill="none" stroke="#245c20" stroke-width="0.9"><path d="M-1,8.5 L-0.6,1.5 L-3,-1 M0.9,8.5 L0.6,2 L3,-0.8 M0,2 V-2" /><path d="M-2.2,3.4 C-6.5,4 -7.5,-0.5 -5.3,-2 C-7,-5.5 -3.5,-8.2 -0.8,-6.6 C1,-9 5.5,-7.6 4.9,-4.4 C8,-3 7,2.2 3.4,2.2" /></g>
<g transform="translate(1468.8,863.3)" fill="none" stroke="#245c20" stroke-width="0.9"><path d="M-1,8.5 L-0.6,1.5 L-3,-1 M0.9,8.5 L0.6,2 L3,-0.8 M0,2 V-2" /><path d="M-2.2,3.4 C-6.5,4 -7.5,-0.5 -5.3,-2 C-7,-5.5 -3.5,-8.2 -0.8,-6.6 C1,-9 5.5,-7.6 4.9,-4.4 C8,-3 7,2.2 3.4,2.2" /></g>
<g transform="translate(1468.8,898.5)" fill="none" stroke="#245c20" stroke-width="0.9"><path d="M-1,8.5 L-0.6,1.5 L-3,-1 M0.9,8.5 L0.6,2 L3,-0.8 M0,2 V-2" /><path d="M-2.2,3.4 C-6.5,4 -7.5,-0.5 -5.3,-2 C-7,-5.5 -3.5,-8.2 -0.8,-6.6 C1,-9 5.5,-7.6 4.9,-4.4 C8,-3 7,2.2 3.4,2.2" /></g>
<g transform="translate(1468.8,933.6)" fill="none" stroke="#245c20" stroke-width="0.9"><path d="M-1,8.5 L-0.6,1.5 L-3,-1 M0.9,8.5 L0.6,2 L3,-0.8 M0,2 V-2" /><path d="M-2.2,3.4 C-6.5,4 -7.5,-0.5 -5.3,-2 C-7,-5.5 -3.5,-8.2 -0.8,-6.6 C1,-9 5.5,-7.6 4.9,-4.4 C8,-3 7,2.2 3.4,2.2" /></g>
</g>
<text x="1315.2" y="1011.8" font-size="18" fill="#4a4a4a" stroke="#fefefe" stroke-width="0.55" text-anchor="middle" textLength="141.5" lengthAdjust="spacingAndGlyphs">Дворцовый пр.</text>
<g opacity="0.6"><g transform="translate(1013,389) rotate(-30)" font-size="23" fill="#4a4a4a" stroke="#4a4a4a" stroke-width="0.45"><text x="0" y="0" textLength="83" lengthAdjust="spacingAndGlyphs">БРОКЕР</text><text x="-6.5" y="22.6" textLength="105" lengthAdjust="spacingAndGlyphs">ОБЪЕКТА</text></g><g transform="translate(366.5,800) rotate(-30)" font-size="23" fill="#4a4a4a" stroke="#4a4a4a" stroke-width="0.45"><text x="0" y="0" textLength="83" lengthAdjust="spacingAndGlyphs">БРОКЕР</text><text x="-6.5" y="22.6" textLength="105" lengthAdjust="spacingAndGlyphs">ОБЪЕКТА</text></g></g>
<g opacity="0.3" font-size="23" fill="#fff" transform="translate(1341,175) rotate(-30)"><text x="0" y="0" textLength="83" lengthAdjust="spacingAndGlyphs">БРОКЕР</text><text x="-6.5" y="22.6" textLength="105" lengthAdjust="spacingAndGlyphs">ОБЪЕКТА</text></g>
<g opacity="0.42" stroke="#fff" stroke-width="11" stroke-linecap="round" fill="none"><path d="M883.3,495.3L895.8,443.9M834.5,522L841.5,496M941,452L948,415"/></g>
</svg>
</body></html>
